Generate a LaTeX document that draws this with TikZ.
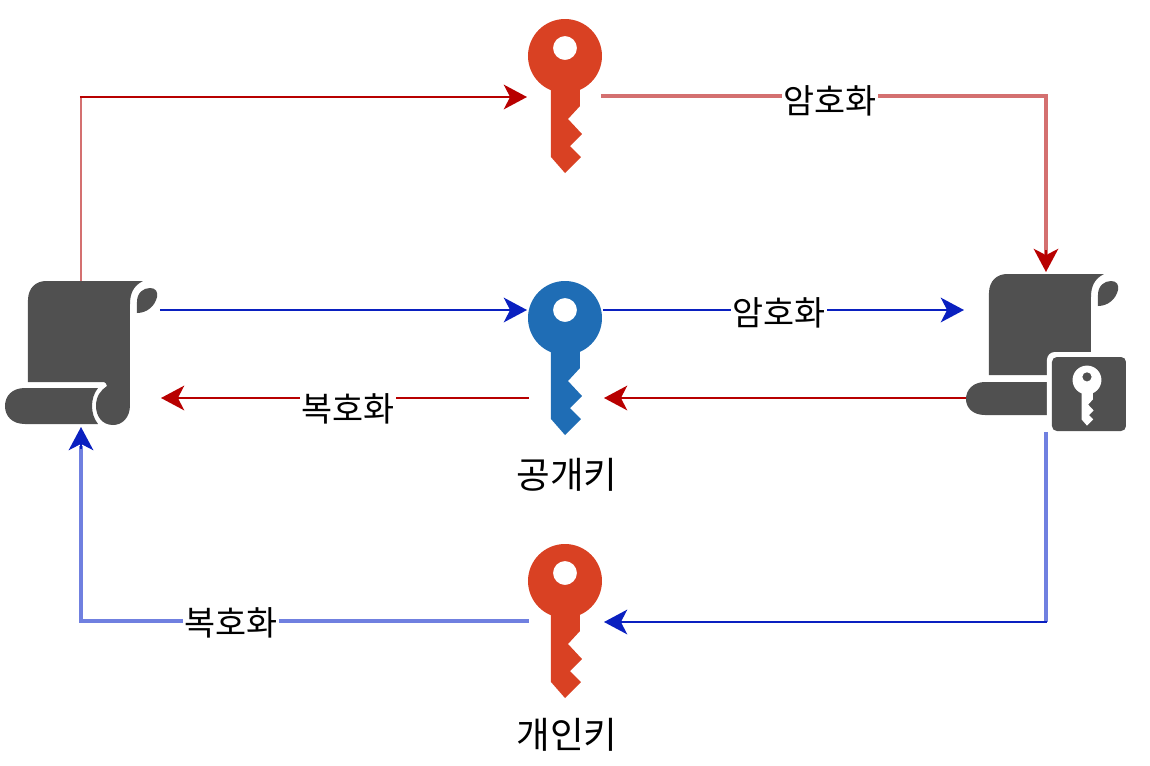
\documentclass[tikz,border=0pt]{standalone}
\usepackage{fontspec}
\setmainfont{Noto Sans CJK KR}
\usetikzlibrary{arrows.meta}
\definecolor{keyred}{HTML}{D94123}
\definecolor{keyblue}{HTML}{1F6DB5}
\definecolor{docgrey}{HTML}{505050}
\definecolor{linered}{HTML}{B80000}
\definecolor{lineblue}{HTML}{0A20C0}
\definecolor{palered}{HTML}{D47070}
\definecolor{paleblue}{HTML}{7080E0}
\tikzset{
  redline/.style={linered,line width=0.75pt,-{Stealth[length=6.6pt,width=7pt,inset=1.8pt]}},
  blueline/.style={lineblue,line width=0.75pt,-{Stealth[length=6.6pt,width=7pt,inset=1.8pt]}},
  steplabel/.style={fill=white,inner sep=0.4pt,font=\fontsize{9.6}{11}\selectfont},
  keylabel/.style={inner sep=0pt,font=\fontsize{10.4}{12}\selectfont},
  keyicon/.pic={
    \fill[even odd rule,pic actions] (0,0) circle (37) (0,-8) circle (12);
    \fill[pic actions] (-14,30) -- (-14,101) -- (0,117) -- (16,101) -- (5,90) -- (17,78) -- (3,63) -- (15,50) -- (15,30) -- cycle;
  },
  scrollbody/.pic={
    \fill[docgrey] (28,300) .. controls (28,288) and (36,281) .. (46,281) -- (143,281)
      .. controls (133,286) and (130,294) .. (130,304) -- (130,405)
      .. controls (130,418) and (122,425) .. (113,425)
      .. controls (102,425) and (96,416) .. (96,406)
      .. controls (96,396) and (101,390) .. (107,386)
      .. controls (106,384) and (106,382) .. (104,382) -- (28,382) -- cycle;
    \fill[docgrey] (137,313) -- (137,302) .. controls (137,293) and (143,288) .. (150,288)
      .. controls (156,288) and (158,292) .. (157,297)
      .. controls (155,306) and (147,313) .. (137,313) -- cycle;
  },
}
\begin{document}
\begin{tikzpicture}[x=0.01cm,y=-0.01cm]
\useasboundingbox (0,0) rectangle (1150,766);
% keys
\pic[fill=keyred] at (565,56) {keyicon};
\pic[fill=keyblue] at (565,318) {keyicon};
\pic[fill=keyred] at (565,581) {keyicon};
\node[keylabel] (pubname) at (567,475) {공개키};
\node[keylabel] (privname) at (567,735) {개인키};
% plain document
\pic at (0,0) {scrollbody};
\fill[docgrey] (98,388) -- (25,388) .. controls (12,388) and (5,396) .. (5,406)
  .. controls (5,416) and (12,424) .. (25,424) -- (98,424)
  .. controls (90,414) and (90,398) .. (98,388) -- cycle;
% locked document
\pic at (961,-7) {scrollbody};
\fill[docgrey] (1047,382) -- (985,382) .. controls (973,382) and (966,390) .. (966,399)
  .. controls (966,408) and (973,415) .. (985,415) -- (1047,415) -- cycle;
\fill[white,rounded corners=2.2pt] (1047,352) rectangle (1130,436);
\fill[docgrey,rounded corners=1.4pt] (1052,357) rectangle (1126,431);
\pic[fill=white,transform shape,scale=0.39] at (1087,380) {keyicon};
% anchors
\coordinate (srcT) at (81,281);
\coordinate (srcB) at (81,427);
\coordinate (srcE) at (160,310);
\coordinate (srcR) at (161,398);
\coordinate (dstT) at (1046,272);
\coordinate (dstB) at (1046,432);
\coordinate (dstW) at (964,310);
\coordinate (dstL) at (966,398);
\coordinate (topW) at (527,97);
\coordinate (topE) at (601,96);
\coordinate (midW) at (527,310);
\coordinate (midE) at (603,310);
\coordinate (midL) at (529,398);
\coordinate (midR) at (604,398);
\coordinate (lowW) at (529,621);
\coordinate (lowE) at (604,622);
% red path
\draw[palered,line width=0.85pt] (srcT) -- (81,97);
\draw[redline] (80,97) -- (topW);
\draw[palered,line width=1.1pt] (topE) -- (1046,96) -- (1046,254);
\draw[redline] (1046,250) -- (dstT);
\draw[redline] (dstL) -- (midR);
\draw[redline] (midL) -- (srcR);
% blue path
\draw[blueline] (srcE) -- (midW);
\draw[blueline] (midE) -- (dstW);
\draw[paleblue,line width=1.1pt] (dstB) -- (1046,622);
\draw[blueline] (1047,622) -- (lowE);
\draw[paleblue,line width=1.1pt] (lowW) -- (81,621) -- (81,446);
\draw[blueline] (81,449) -- (srcB);
% labels
\node[steplabel] (encTop) at (830,101) {암호화};
\node[steplabel] (encMid) at (779,313) {암호화};
\node[steplabel] (decMid) at (348,409) {복호화};
\node[steplabel] (decLow) at (231,623) {복호화};
\end{tikzpicture}
\end{document}
